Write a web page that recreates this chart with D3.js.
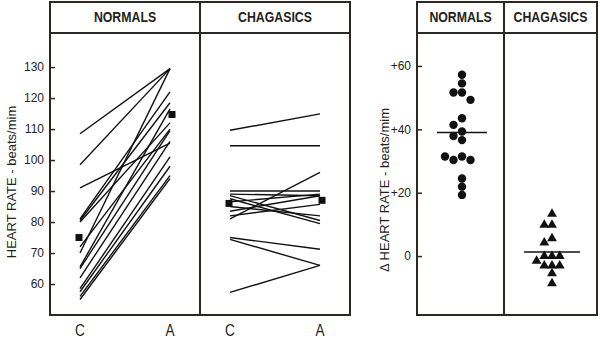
<!DOCTYPE html>
<html>
<head>
<meta charset="utf-8">
<script src="https://cdn.jsdelivr.net/npm/d3@7"></script>
<style>
  body { margin: 0; background: #fff; }
  text { font-family: "Liberation Sans", Arial, sans-serif; fill: #231f1c; }
</style>
</head>
<body>
<div id="chart"></div>
<script>
// Data
var times = ["C", "A"];
var groups = ["NORMALS", "CHAGASICS"];

// heart rate before (C) and after (A), one entry per subject
var normalsC = [108.5, 98.5, 91, 81, 80.5, 80, 72, 70, 65.5, 65, 62, 58.5, 57.5, 56, 55];
var normalsA = [129.5, 129.5, 105.5, 122, 118.5, 112, 110, 129.5, 116.5, 109.5, 106, 101, 98, 95, 94];
var chagasicsC = [109.6, 104.6, 90, 89, 88.5, 87.5, 86.5, 83.5, 82, 81, 75, 74.4, 57.3, 85];
var chagasicsA = [114.9, 104.6, 90, 88.5, 80.5, 79.5, 89, 88.5, 85.7, 96, 71.2, 66, 66, 82];
var normalsMean = [75, 114.7];
var chagasicsMean = [86, 87];

// change in heart rate
var normalsDelta = [57.2, 54.5, 51.6, 51.6, 49.3, 43.5, 41.4, 39.3, 37.9, 36.6, 31.4, 30.3, 30.3, 31.4, 24.5, 21.9, 19.3];
var chagasicsDelta = [13.3, 9.8, 9.8, 5.6, 4.2, 0, 0, 0, -1.5, -3, -3, -3, -5.5, -8.6];
var deltaMean = [39, 1.3];

var hrTicks = [60, 70, 80, 90, 100, 110, 120, 130];
var deltaTicks = [0, 20, 40, 60];

// svg container
var svgWidth = 600;
var svgHeight = 339;

var svg = d3.select("#chart").append("svg")
  .attr("width", svgWidth)
  .attr("height", svgHeight);

var frameColor = "#2e2824";
var frameTop = 2, headBottom = 33, frameBottom = 315;

// panels
var leftPanel = { x0: 50, x1: 350, mid: 200 };
var rightPanel = { x0: 417, x1: 597, mid: 504 };

// narrow-looking text: squeeze horizontally
function narrowText(x, y, txt, size, bold, sx) {
  svg.append("text")
    .attr("transform", "translate(" + x + "," + y + ") scale(" + sx + ",1)")
    .attr("text-anchor", "middle")
    .style("font-weight", bold ? "bold" : "normal")
    .style("font-size", size + "px")
    .text(txt);
}

function drawFrame(p) {
  svg.append("rect")
    .attr("x", p.x0).attr("y", frameTop)
    .attr("width", p.x1 - p.x0).attr("height", frameBottom - frameTop)
    .attr("fill", "none").attr("stroke", frameColor).attr("stroke-width", 2);
  svg.append("line")
    .attr("x1", p.x0).attr("x2", p.x1).attr("y1", headBottom).attr("y2", headBottom)
    .attr("stroke", frameColor).attr("stroke-width", 2);
  svg.append("line")
    .attr("x1", p.mid).attr("x2", p.mid).attr("y1", frameTop).attr("y2", frameBottom)
    .attr("stroke", frameColor).attr("stroke-width", 2);
  narrowText((p.x0 + p.mid) / 2, 22, groups[0], 14, true, 0.88);
  narrowText((p.mid + p.x1) / 2, 22, groups[1], 14, true, 0.88);
}
drawFrame(leftPanel);
drawFrame(rightPanel);

// Scales
var yHR = d3.scaleLinear().domain([50, 141]).range([frameBottom, headBottom]);
var xNormals = d3.scalePoint().domain(times).range([leftPanel.x0, leftPanel.mid]).padding(1 / 3);
var xChagasics = d3.scalePoint().domain(times).range([leftPanel.mid, leftPanel.x1]).padding(1 / 3);

var yDelta = d3.scaleLinear().domain([-18.6, 70.4]).range([frameBottom, headBottom]);
var xGroup = d3.scalePoint().domain(groups).range([rightPanel.x0, rightPanel.x1]).padding(0.5);

// Left axis
var hrAxis = svg.append("g")
  .attr("transform", "translate(" + leftPanel.x0 + ",0)")
  .call(d3.axisLeft(yHR).tickValues(hrTicks).tickSize(-5).tickPadding(6));
hrAxis.select(".domain").remove();
hrAxis.selectAll("line").attr("stroke", frameColor).attr("stroke-width", 1.5);
hrAxis.selectAll("text").style("font-size", "12px").style("font-family", null);

// C / A labels
[xNormals, xChagasics].forEach(function(sc) {
  times.forEach(function(t) {
    narrowText(sc(t), 336, t, 17, false, 0.8);
  });
});

svg.append("text")
  .attr("transform", "translate(16,182) rotate(-90)")
  .attr("text-anchor", "middle")
  .style("font-size", "13px")
  .text("HEART RATE - beats/mim");

// Paired lines
function drawPairs(cVals, aVals, sc) {
  svg.append("g").selectAll("line")
    .data(cVals)
    .enter()
    .append("line")
    .attr("x1", sc("C"))
    .attr("y1", function(d) { return yHR(d); })
    .attr("x2", sc("A"))
    .attr("y2", function(d, i) { return yHR(aVals[i]); })
    .attr("stroke", "#111")
    .attr("stroke-width", 1.4);
}
drawPairs(normalsC, normalsA, xNormals);
drawPairs(chagasicsC, chagasicsA, xChagasics);

function drawMeans(vals, sc) {
  svg.append("g").selectAll("rect")
    .data(vals)
    .enter()
    .append("rect")
    .attr("x", function(d, i) { return sc(times[i]) + (i === 0 ? -1 : 2) - 3.5; })
    .attr("y", function(d) { return yHR(d) - 3.5; })
    .attr("width", 7)
    .attr("height", 7)
    .attr("fill", "#111");
}
drawMeans(normalsMean, xNormals);
drawMeans(chagasicsMean, xChagasics);

// Right axis
var dAxis = svg.append("g")
  .attr("transform", "translate(" + rightPanel.x0 + ",0)")
  .call(d3.axisLeft(yDelta).tickValues(deltaTicks).tickSize(-5).tickPadding(6)
    .tickFormat(function(d) { return d > 0 ? "+" + d : d; }));
dAxis.select(".domain").remove();
dAxis.selectAll("line").attr("stroke", frameColor).attr("stroke-width", 1.5);
dAxis.selectAll("text").style("font-size", "12px").style("font-family", null);

svg.append("text")
  .attr("transform", "translate(389,190) rotate(-90)")
  .attr("text-anchor", "middle")
  .style("font-size", "13px")
  .text("\u0394 HEART RATE - beats/mim");

// simple dodge so markers do not overlap
function dodge(values, cx, r) {
  var placed = [];
  values.forEach(function(v) {
    var py = yDelta(v);
    for (var k = 0; k < 20; k++) {
      var off = k === 0 ? 0 : (k % 2 ? -1 : 1) * Math.ceil(k / 2) * (2 * r + 0.5);
      var px = cx + off;
      var hit = placed.some(function(p) {
        return Math.hypot(p.x - px, p.y - py) < 2 * r;
      });
      if (!hit) { placed.push({ x: px, y: py, v: v }); break; }
    }
  });
  return placed;
}

var normalDots = dodge(normalsDelta, xGroup("NORMALS"), 4);
svg.append("g").selectAll("circle")
  .data(normalDots)
  .enter()
  .append("circle")
  .attr("cx", function(d) { return d.x; })
  .attr("cy", function(d) { return d.y; })
  .attr("r", 4.2)
  .attr("fill", "#111");

var chagasDots = dodge(chagasicsDelta, xGroup("CHAGASICS"), 3.6);
svg.append("g").selectAll("path")
  .data(chagasDots)
  .enter()
  .append("path")
  .attr("transform", function(d) { return "translate(" + d.x + "," + d.y + ")"; })
  .attr("d", d3.symbol().type(d3.symbolTriangle).size(42))
  .attr("fill", "#111");

// mean bars
var meanHalf = [25, 28];
svg.append("g").selectAll("line")
  .data(deltaMean)
  .enter()
  .append("line")
  .attr("x1", function(d, i) { return xGroup(groups[i]) - meanHalf[i]; })
  .attr("x2", function(d, i) { return xGroup(groups[i]) + meanHalf[i]; })
  .attr("y1", function(d) { return yDelta(d); })
  .attr("y2", function(d) { return yDelta(d); })
  .attr("stroke", "#111")
  .attr("stroke-width", 1.6);
</script>
</body>
</html>
